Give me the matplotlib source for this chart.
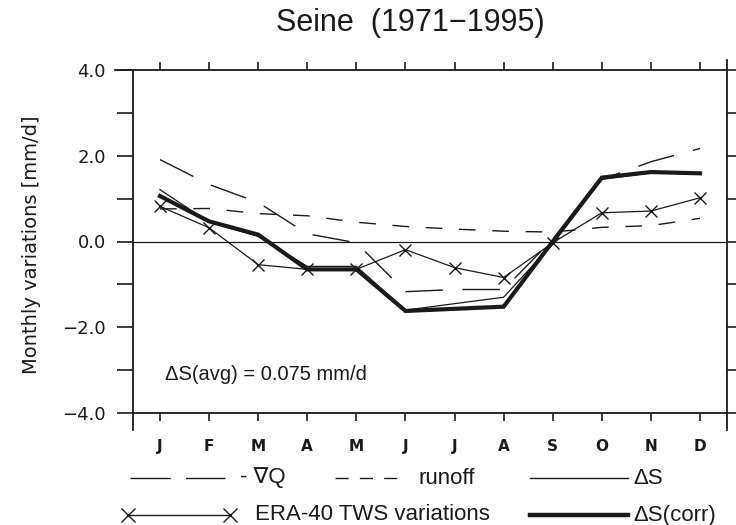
import matplotlib
matplotlib.use('Agg')
import matplotlib.pyplot as plt
from matplotlib.lines import Line2D
import numpy as np

plt.rcParams['font.family'] = ['Liberation Sans', 'DejaVu Sans']

months = ['J', 'F', 'M', 'A', 'M', 'J', 'J', 'A', 'S', 'O', 'N', 'D']
minus_div_q = [1.91, 1.33, 0.91, 0.18, -0.03, -1.17, -1.12, -1.12, 0.05, 1.45, 1.86, 2.17]
runoff = [0.76, 0.77, 0.65, 0.60, 0.45, 0.35, 0.29, 0.24, 0.22, 0.33, 0.37, 0.54]
delta_s = [1.21, 0.45, 0.12, -0.58, -0.58, -1.60, -1.45, -1.30, -0.05, 1.45, 1.60, 1.60]
era40_tws = [0.82, 0.32, -0.54, -0.65, -0.65, -0.19, -0.61, -0.84, -0.03, 0.67, 0.71, 1.02]
delta_s_corr = [1.06, 0.47, 0.16, -0.65, -0.65, -1.62, -1.57, -1.52, 0.00, 1.49, 1.62, 1.59]
ytick_vals = [-4, -3, -2, -1, 0, 1, 2, 3, 4]
ytick_labels = ['\u22124.0', '', '\u22122.0', '', '0.0', '', '2.0', '', '4.0']

ink = '#1a1a1a'
W, H = 736, 525

fig = plt.figure(figsize=(7.36, 5.25), dpi=100)
ax = fig.add_axes([133 / W, 1 - 413 / H, (727 - 133) / W, (413 - 70) / H])

x = np.arange(len(months))
ax.axhline(0, color=ink, lw=0.9)
ax.plot(x, minus_div_q, color=ink, lw=1.0, linestyle=(0, (27, 14)))
ax.plot(x, runoff, color=ink, lw=1.0, linestyle=(0, (12, 12)))
ax.plot(x, delta_s, color=ink, lw=0.9)
ax.plot(x, era40_tws, color=ink, lw=0.9, marker='x', markersize=9, mew=1.0)
ax.plot(x, delta_s_corr, color=ink, lw=3.0, solid_joinstyle='miter')

ax.set_xlim(-0.55, 11.55)
ax.set_ylim(-4, 4)
ax.set_xticks(x)
ax.set_xticklabels(months, fontsize=11, fontweight='bold', family='DejaVu Sans')
ax.set_yticks(ytick_vals)
ax.set_yticklabels(ytick_labels, fontsize=13, family='DejaVu Sans')
ax.tick_params(axis='x', direction='out', length=6, width=1.2, top=True, pad=13, colors=ink)
ax.tick_params(axis='y', direction='out', length=11.5, width=1.2, right=True, pad=8, colors=ink)
for sp in ax.spines.values():
    sp.set_linewidth(1.3)
    sp.set_color(ink)

# NCL-style spine overhang
for xs, ys in [([-0.03, 0], [1, 1]), ([0, 0], [0, -0.05]), ([1, 1], [0, -0.05]), ([1, 1], [1, 1.03])]:
    ax.plot(xs, ys, color=ink, lw=1.3, transform=ax.transAxes, clip_on=False)

ax.text(0.1, -3.1, '\u0394S(avg) = 0.075 mm/d', fontsize=14.5, color=ink, va='center')
fig.text(32 / W, 1 - 245 / H, 'Monthly variations [mm/d]', rotation=90, fontsize=14,
         family='DejaVu Sans', ha='center', va='center', color=ink)
fig.text(410 / W, 1 - 23 / H, 'Seine  (1971\u22121995)', fontsize=22, ha='center', va='center', color=ink)

# legend drawn below the axes
def key(x0, x1, y, **kw):
    fig.add_artist(Line2D([x0 / W, x1 / W], [1 - y / H, 1 - y / H], color=ink, **kw))

def label(x0, y, s):
    fig.text(x0 / W, 1 - y / H, s, fontsize=16, va='center', color=ink)

key(130, 225, 478, lw=1.0, linestyle=(0, (29, 11)))
label(240, 478, '- \u2207Q')
key(335, 398, 478, lw=1.0, linestyle=(0, (9.5, 8)))
label(418, 478, 'runoff')
key(530, 628, 478, lw=1.0)
label(633, 478, '\u0394S')
key(128, 230, 515, lw=1.0, marker='x', markersize=10, mew=1.0)
label(255, 515, 'ERA-40 TWS variations')
key(530, 628, 515, lw=3.2)
label(633, 515, '\u0394S(corr)')

fig.savefig('out.png', dpi=100)
